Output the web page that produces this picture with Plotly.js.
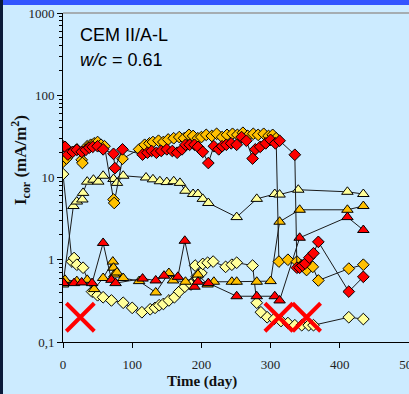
<!DOCTYPE html>
<html><head><meta charset="utf-8">
<script src="https://cdn.plot.ly/plotly-3.0.1.min.js"></script>
<style>html,body{margin:0;padding:0;background:#CCEBFF;}#chart{width:409px;height:394px;}</style>
</head><body><div id="chart"></div>
<script>
// Red diamonds
const rdDays = [0,3,7,14,20,27,33,38,43,50,58,73,75,86,115,122,128,135,142,150,158,165,172,177,183,190,195,202,210,218,225,230,236,243,251,258,265,274,278,285,293,300,307,313,335,338,342,346,350,356,362,369,413,434];
const rdVals = [24,23.6,19,20.5,21.7,20.5,21.7,23,23.6,24,22,19.4,13,22,19,20,21,20,21,22,21,20,22,25,25,25,23.6,20.5,15,24,22,24,25,26,25,31,28,17,22,23.6,26,28.7,26,28,18.9,0.8,0.8,0.85,0.9,1.06,1.2,1.65,0.41,0.62];
// Gold diamonds
const gdDays = [0,5,12,20,27,28,35,40,45,50,55,60,73,74,86,110,118,125,130,138,145,152,160,168,175,182,188,195,200,207,215,222,230,237,245,252,260,267,275,282,290,297,303,308,312,325,338,345,352,361,369,413,434];
const gdVals = [15.5,17,20,22,16.4,15,24,25,26,27,25,24,5.4,4.9,16.9,22,25,26,27,28,27,29,30,31,30,33,32,30,31,33,32,34,31,33,34,33,35,32,34,33,34,32,33,30,0.95,1.0,0.95,0.85,0.75,0.82,0.56,0.78,0.87];
// Light yellow diamonds
const lyDays = [0,13,16,20,29,42,50,58,70,87,100,114,126,133,139,145,153,161,168,176,185,193,200,191,202,209,217,235,244,251,274,280,286,295,305,315,325,335,345,355,362,413,434];
const lyVals = [11,0.95,1.05,0.87,0.8,0.41,0.37,0.35,0.32,0.30,0.26,0.23,0.25,0.26,0.28,0.29,0.32,0.35,0.41,0.47,0.5,0.62,0.69,0.85,0.89,0.92,0.95,0.82,0.87,0.92,0.85,0.30,0.23,0.2,0.19,0.18,0.17,0.16,0.16,0.16,0.16,0.2,0.19];
// Light yellow triangles
const ltDays = [0,15,20,28,29,35,44,51,58,73,78,87,120,130,140,150,160,169,177,188,195,202,210,251,280,306,313,340,411,434];
const ltVals = [0.5,4.5,5.1,5.4,6.5,8.9,9.4,8.9,10.5,9.6,8.6,10.5,10,9.5,9,8.8,9,8.6,6.9,6.3,6.3,5.5,4.9,3.3,5.5,6.3,6.2,7.1,6.7,6.3];
// Gold triangles
const gtDays = [0,3,20,35,45,58,72,73,74,78,87,110,134,153,159,177,195,209,218,244,251,280,300,313,342,411,434];
const gtVals = [0.55,0.57,0.55,0.57,0.44,0.6,0.95,0.8,0.66,0.7,0.6,0.55,0.4,0.69,0.56,0.54,0.66,0.5,0.54,0.54,0.54,0.54,0.55,2.9,4.05,4.05,4.5];
// Red triangles
const rtDays = [0,1,16,27,42,58,70,76,115,134,146,166,176,190,195,210,251,280,306,313,342,411,434];
const rtVals = [0.52,0.52,0.52,0.53,0.52,1.6,0.57,0.52,0.59,0.56,0.64,0.62,1.7,0.47,0.54,0.52,0.36,0.36,0.36,0.32,1.85,3.3,2.3];
// Red crosses (excluded measurements)
const xDays = [25,312,352];
const xVals = [0.2,0.2,0.2];

const yTickVals = [0.1,1,10,100,1000];
const yTickText = ['0,1','1','10','100','1000'];
const xTickVals = [0,100,200,300,400,500];

const line = {color:'#1a1a1a', width:1};
function dia(x,y,c){return {x:x,y:y,type:'scatter',mode:'lines+markers',line:line,
  marker:{symbol:'diamond',size:9,color:c,line:{color:'#000',width:1}},showlegend:false,hoverinfo:'skip'};}
function tri(x,y,c){return {x:x,y:y,type:'scatter',mode:'lines+markers',line:line,
  marker:{symbol:'triangle-up',size:10,color:c,line:{color:'#000',width:1}},showlegend:false,hoverinfo:'skip'};}

const data = [
  dia(lyDays,lyVals,'#FFFF99'),
  tri(ltDays,ltVals,'#FFFF99'),
  tri(gtDays,gtVals,'#FFC000'),
  tri(rtDays,rtVals,'#FF0000'),
  dia(gdDays,gdVals,'#FFC000'),
  dia(rdDays,rdVals,'#FF0000'),
  {x:xDays,y:xVals,type:'scatter',mode:'markers',showlegend:false,hoverinfo:'skip',
   marker:{symbol:'x-thin',size:28,line:{color:'#FF0000',width:4}}}
];

const serif = 'Liberation Serif, Times New Roman, serif';
const layout = {
  width:409,height:394,
  paper_bgcolor:'#CCEBFF',plot_bgcolor:'#CCEBFF',
  margin:{l:63,r:0,t:13,b:52},
  xaxis:{range:[0,500],tickvals:xTickVals,ticks:'outside',ticklen:5,tickcolor:'#000',ticklabelstandoff:5,
    ticklabeloverflow:'allow',
    showline:true,linecolor:'#000',linewidth:1,showgrid:false,zeroline:false,
    tickfont:{family:serif,size:13,color:'#222'}},
  yaxis:{type:'log',range:[-1,3],tickvals:yTickVals,ticktext:yTickText,ticks:'outside',ticklen:5,tickcolor:'#000',
    minor:{ticks:'outside',ticklen:3,dtick:'D1',tickcolor:'#000'},
    showline:true,linecolor:'#000',linewidth:1,showgrid:false,zeroline:false,
    tickfont:{family:serif,size:13,color:'#222'}},
  shapes:[
    {type:'rect',xref:'paper',yref:'paper',x0:-1,x1:1.1,y0:1.0 + 8/329,y1:1.2,fillcolor:'#3355FF',line:{width:0},layer:'above'},
    {type:'line',xref:'paper',yref:'paper',x0:0,x1:1,y0:1,y1:1,line:{color:'#999',width:1.5}},
    {type:'rect',xref:'paper',yref:'paper',x0:-63/346,x1:-60/346,y0:-0.3,y1:1.2,fillcolor:'#0A1A3A',line:{width:0},layer:'above'}
  ],
  annotations:[
    {xref:'paper',yref:'paper',x:15/346,y:1-22/329,xanchor:'left',yanchor:'middle',showarrow:false,
     text:'CEM II/A-L',font:{family:'Liberation Sans, Arial, sans-serif',size:18,color:'#000'}},
    {xref:'paper',yref:'paper',x:15/346,y:1-47/329,xanchor:'left',yanchor:'middle',showarrow:false,
     text:'<i>w/c</i> = 0.61',font:{family:'Liberation Sans, Arial, sans-serif',size:18,color:'#000'}},
    {xref:'paper',yref:'paper',x:-43/346,y:(342-160)/329,xanchor:'center',yanchor:'middle',showarrow:false,textangle:-90,
     text:'<b>I<sub>cor</sub> (mA/m<sup>2</sup>)</b>',font:{family:serif,size:17,color:'#111'}},
    {xref:'paper',yref:'paper',x:(202-63)/346,y:-(381-342)/329,xanchor:'center',yanchor:'middle',showarrow:false,
     text:'<b>Time (day)</b>',font:{family:serif,size:15,color:'#111'}}
  ]
};
Plotly.newPlot('chart',data,layout,{displayModeBar:false,staticPlot:true});
</script></body></html>
